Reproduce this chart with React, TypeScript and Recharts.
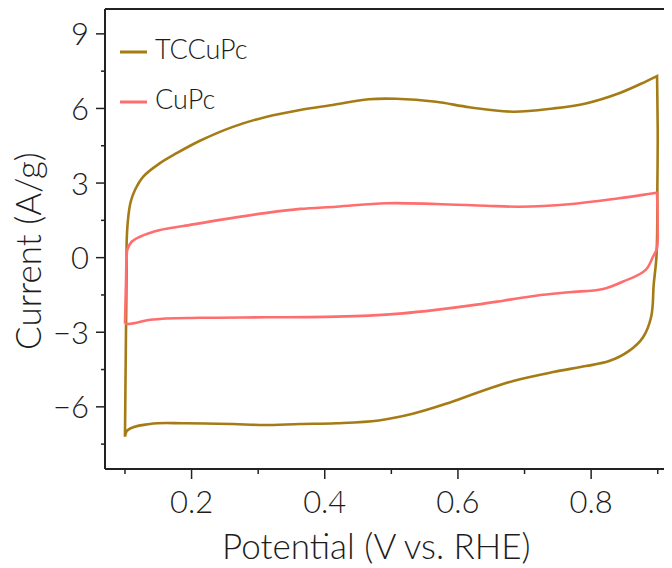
import { Legend, Line, LineChart, ReferenceLine, XAxis, YAxis } from "recharts"

// Cyclic voltammograms, traced in scan order (V vs. RHE, A/g)
const tccupcPotential = [
  0.1, 0.1015, 0.1025, 0.1026, 0.105, 0.1086, 0.115, 0.1275, 0.1526, 0.1776, 0.2126, 0.262, 0.313,
  0.363, 0.412, 0.466, 0.507, 0.567, 0.617, 0.683, 0.743, 0.792, 0.842, 0.882, 0.899, 0.9, 0.8995,
  0.898, 0.894, 0.89, 0.878, 0.857, 0.827, 0.792, 0.743, 0.683, 0.632, 0.582, 0.532, 0.481, 0.417,
  0.363, 0.307, 0.262, 0.187, 0.1375, 0.103, 0.1,
]
const tccupcCurrent = [
  -7.2, -3, -0.5, 0.71, 1.65, 2.25, 2.72, 3.26, 3.8, 4.2, 4.7, 5.26, 5.67, 5.94, 6.14, 6.37, 6.39,
  6.27, 6.05, 5.87, 6.0, 6.2, 6.61, 7.08, 7.3, 5, 3, 0, -1.07, -2.4, -3.2, -3.75, -4.16, -4.36, -4.6,
  -4.96, -5.4, -5.88, -6.28, -6.55, -6.66, -6.69, -6.73, -6.69, -6.66, -6.69, -6.96, -7.2,
]

const cupcPotential = [
  0.1, 0.1015, 0.1025, 0.1035, 0.11, 0.1225, 0.1526, 0.1876, 0.2427, 0.313, 0.363, 0.417, 0.492,
  0.567, 0.642, 0.692, 0.767, 0.842, 0.899, 0.9, 0.8985, 0.893, 0.882, 0.848, 0.818, 0.767, 0.717,
  0.668, 0.617, 0.567, 0.517, 0.466, 0.417, 0.313, 0.2126, 0.1375, 0.1045, 0.1,
]
const cupcCurrent = [
  -2.65, -1, 0, 0.31, 0.64, 0.84, 1.11, 1.27, 1.52, 1.8, 1.96, 2.05, 2.19, 2.16, 2.09, 2.05, 2.15,
  2.39, 2.61, 1.2, 0.35, 0.04, -0.49, -0.96, -1.26, -1.39, -1.53, -1.73, -1.93, -2.1, -2.24, -2.33,
  -2.37, -2.4, -2.42, -2.5, -2.67, -2.65,
]

const xTicks = [0.1, 0.2, 0.3, 0.4, 0.5, 0.6, 0.7, 0.8, 0.9]
const yTicks = [-7.5, -6, -4.5, -3, -1.5, 0, 1.5, 3, 4.5, 6, 7.5, 9]

const series = [
  { name: "TCCuPc", color: "#a57b15", potential: tccupcPotential, current: tccupcCurrent },
  { name: "CuPc", color: "#ff6e6e", potential: cupcPotential, current: cupcCurrent },
]

const FONT = "Lato, 'Open Sans', sans-serif"
const INK = "#1c1c1c"
const AXIS = "#222"

function toRows(potential: number[], current: number[]) {
  return potential.map((v, i) => ({ v, i: current[i] }))
}

function formatTick(value: number) {
  return value < 0 ? `\u2212${Math.abs(value)}` : `${value}`
}

// passes through every traced point, keeps sharp turns (scan reversals) as corners
function smoothLoop(context: any) {
  let pts: number[][] = []
  const unit = (dx: number, dy: number) => {
    const len = Math.hypot(dx, dy) || 1
    return [dx / len, dy / len]
  }
  const tangent = (k: number) => {
    const prev = pts[k - 1]
    const next = pts[k + 1]
    if (!prev || !next) return null
    const a = unit(pts[k][0] - prev[0], pts[k][1] - prev[1])
    const b = unit(next[0] - pts[k][0], next[1] - pts[k][1])
    if (a[0] * b[0] + a[1] * b[1] < 0.5) return null
    return unit(a[0] + b[0], a[1] + b[1])
  }
  return {
    areaStart() {},
    areaEnd() {},
    lineStart() {
      pts = []
    },
    point(x: number, y: number) {
      pts.push([+x, +y])
    },
    lineEnd() {
      if (!pts.length) return
      context.moveTo(pts[0][0], pts[0][1])
      for (let k = 0; k < pts.length - 1; k++) {
        const p1 = pts[k]
        const p2 = pts[k + 1]
        const len = Math.hypot(p2[0] - p1[0], p2[1] - p1[1])
        const seg = unit(p2[0] - p1[0], p2[1] - p1[1])
        const t1 = tangent(k) ?? seg
        const t2 = tangent(k + 1) ?? seg
        context.bezierCurveTo(
          p1[0] + (t1[0] * len) / 3,
          p1[1] + (t1[1] * len) / 3,
          p2[0] - (t2[0] * len) / 3,
          p2[1] - (t2[1] * len) / 3,
          p2[0],
          p2[1],
        )
      }
    },
  }
}

function XTick({ x, y, payload }: any) {
  const major = Math.round(payload.value * 10) % 2 === 0
  return (
    <g>
      <line x1={x} x2={x} y1={y} y2={y + (major ? 10 : 5)} stroke={AXIS} strokeWidth={1.5} />
      {major && (
        <text x={x} y={y + 44} textAnchor="middle" fill={INK} fontFamily={FONT} fontWeight={300} fontSize={31}>
          {payload.value.toFixed(1)}
        </text>
      )}
    </g>
  )
}

function YTick({ x, y, payload }: any) {
  const major = Number.isInteger(payload.value)
  return (
    <g>
      <line x1={x} x2={x - (major ? 9 : 4)} y1={y} y2={y} stroke={AXIS} strokeWidth={1.5} />
      {major && (
        <text x={x - 16} y={y + 11.5} textAnchor="end" fill={INK} fontFamily={FONT} fontWeight={300} fontSize={31}>
          {formatTick(payload.value)}
        </text>
      )}
    </g>
  )
}

function CvLegend() {
  return (
    <svg width={260} height={120} style={{ display: "block" }}>
      {series.map((s, idx) => (
        <g key={s.name}>
          <line x1={112} x2={139} y1={44 + idx * 50} y2={44 + idx * 50} stroke={s.color} strokeWidth={3} />
          <text x={147} y={50.5 + idx * 50} fill={INK} fontFamily={FONT} fontWeight={300} fontSize={27}>
            {s.name}
          </text>
        </g>
      ))}
    </svg>
  )
}

export default function App() {
  return (
    <div style={{ width: 664, height: 560, overflow: "hidden" }}>
      <LineChart width={700} height={560} margin={{ top: 1, right: 30.3, left: 0, bottom: 0 }}>
        <XAxis
          type="number"
          dataKey="v"
          domain={[0.07, 0.93]}
          ticks={xTicks}
          allowDataOverflow
          height={99}
          tickSize={0}
          tickMargin={0}
          tickLine={false}
          tick={<XTick />}
          axisLine={{ stroke: AXIS, strokeWidth: 2 }}
          label={({ viewBox }: any) => (
            <text
              x={viewBox.x + viewBox.width / 2 - 15}
              y={viewBox.y + 90}
              textAnchor="middle"
              fill={INK}
              fontFamily={FONT}
              fontWeight={300}
              fontSize={35}
            >
              Potential (V vs. RHE)
            </text>
          )}
        />
        <YAxis
          type="number"
          dataKey="i"
          domain={[-8.5, 10]}
          ticks={yTicks}
          allowDataOverflow
          width={97}
          tickSize={0}
          tickMargin={0}
          tickLine={false}
          tick={<YTick />}
          axisLine={{ stroke: AXIS, strokeWidth: 2 }}
          label={({ viewBox }: any) => {
            const cx = viewBox.x + 33
            const cy = viewBox.y + viewBox.height / 2 + 12
            return (
              <text
                x={cx}
                y={cy}
                transform={`rotate(-90, ${cx}, ${cy})`}
                textAnchor="middle"
                fill={INK}
                fontFamily={FONT}
                fontWeight={300}
                fontSize={35}
              >
                Current (A/g)
              </text>
            )
          }}
        />
        <ReferenceLine y={10} stroke={AXIS} strokeWidth={2} />
        <Legend
          layout="horizontal"
          verticalAlign="middle"
          align="center"
          content={<CvLegend />}
          wrapperStyle={{ position: "absolute", top: 0, left: 0, width: 260, height: 120 }}
        />
        {series.map((s) => (
          <Line
            key={s.name}
            name={s.name}
            data={toRows(s.potential, s.current)}
            dataKey="i"
            type={smoothLoop as any}
            stroke={s.color}
            strokeWidth={2.6}
            dot={false}
            activeDot={false}
            isAnimationActive={false}
          />
        ))}
      </LineChart>
    </div>
  )
}
